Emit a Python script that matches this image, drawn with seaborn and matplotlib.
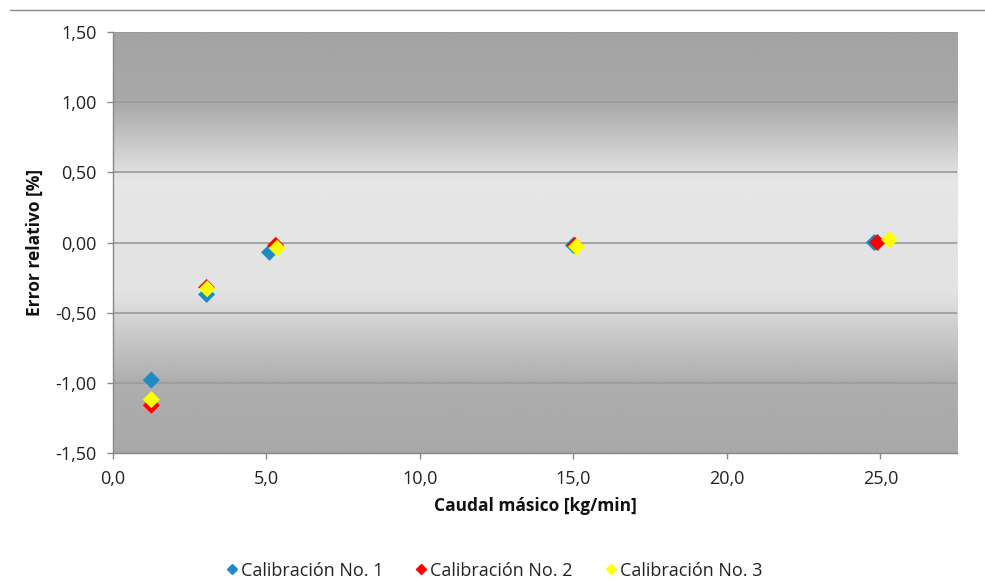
import matplotlib
matplotlib.use("Agg")
import matplotlib.pyplot as plt
import numpy as np
import pandas as pd
import seaborn as sns
from matplotlib.lines import Line2D
from matplotlib.ticker import FuncFormatter

# Data
caudal_cal1 = [1.25, 3.05, 5.1, 15.0, 24.8]
error_cal1 = [-0.98, -0.37, -0.07, -0.02, 0.00]
caudal_cal2 = [1.25, 3.05, 5.3, 15.05, 24.9]
error_cal2 = [-1.16, -0.32, -0.02, -0.02, 0.00]
caudal_cal3 = [1.25, 3.07, 5.35, 15.1, 25.3]
error_cal3 = [-1.12, -0.33, -0.04, -0.03, 0.02]
series_names = ["Calibración No. 1", "Calibración No. 2", "Calibración No. 3"]
series_colors = ["#1f8bc6", "#ff0000", "#ffff00"]

df = pd.concat([
    pd.DataFrame({"caudal": caudal_cal1, "error": error_cal1, "serie": series_names[0]}),
    pd.DataFrame({"caudal": caudal_cal2, "error": error_cal2, "serie": series_names[1]}),
    pd.DataFrame({"caudal": caudal_cal3, "error": error_cal3, "serie": series_names[2]}),
], ignore_index=True)

sns.set_style("white")
plt.rcParams['font.family'] = ['Open Sans', 'DejaVu Sans']

fig = plt.figure(figsize=(9.85, 5.81), dpi=100)
ax = fig.add_axes([0.1147, 0.2203, 0.857, 0.7246])

# vertical gray gradient background (dark - light plateau - dark)
yy = np.linspace(-1.5, 1.5, 300)
shade = np.interp(yy, [-1.5, -1.0, -0.35, 0.45, 1.0, 1.5],
                  [0.66, 0.68, 0.89, 0.90, 0.66, 0.64])
grad = np.tile(shade[:, None], (1, 2))
ax.imshow(grad, cmap="gray", vmin=0, vmax=1, aspect="auto",
          extent=[0, 27.5, -1.5, 1.5], origin="lower", zorder=0)

for yv in [-1.0, -0.5, 0.0, 0.5, 1.0, 1.5]:
    ax.axhline(yv, color="#9a9a9a", lw=1.2, zorder=1)

sns.scatterplot(data=df, x="caudal", y="error", hue="serie",
                palette=series_colors, marker="D", s=75, linewidth=0,
                ax=ax, zorder=3, legend=False)

ax.set_xlim(0, 27.5)
ax.set_ylim(-1.5, 1.5)
ax.set_xticks([0, 5, 10, 15, 20, 25])
ax.set_yticks([-1.5, -1.0, -0.5, 0.0, 0.5, 1.0, 1.5])
ax.xaxis.set_major_formatter(FuncFormatter(lambda v, p: f"{v:.1f}".replace(".", ",")))
ax.yaxis.set_major_formatter(FuncFormatter(lambda v, p: f"{v:.2f}".replace(".", ",")))
ax.tick_params(axis="both", labelsize=13, labelcolor="#222222", color="#888888",
               length=4, width=1, bottom=True, left=True)
ax.tick_params(axis="x", pad=8)
ax.tick_params(axis="y", pad=8)

for side in ["top", "right"]:
    ax.spines[side].set_visible(False)
for side in ["left", "bottom"]:
    ax.spines[side].set_color("#888888")
    ax.spines[side].set_linewidth(1)

ax.set_xlabel("Caudal másico [kg/min]", fontsize=12.5, fontweight="bold",
              labelpad=7, color="#111111")
ax.set_ylabel("Error relativo [%]", fontsize=12.5, fontweight="bold",
              labelpad=8, color="#111111")

handles = [Line2D([], [], marker="D", color=c, linestyle="", markersize=5.5)
           for c in series_colors]
fig.legend(handles, series_names, loc="center", bbox_to_anchor=(0.5, 0.018),
           ncol=3, frameon=False, fontsize=13, handletextpad=0.0,
           columnspacing=1.6, handlelength=1.0, labelcolor="#222222")

# thin line across the top of the picture
fig.add_artist(Line2D([0.01, 1.0], [0.983, 0.983], color="#888888", lw=1))

fig.savefig("out.png", dpi=100)
